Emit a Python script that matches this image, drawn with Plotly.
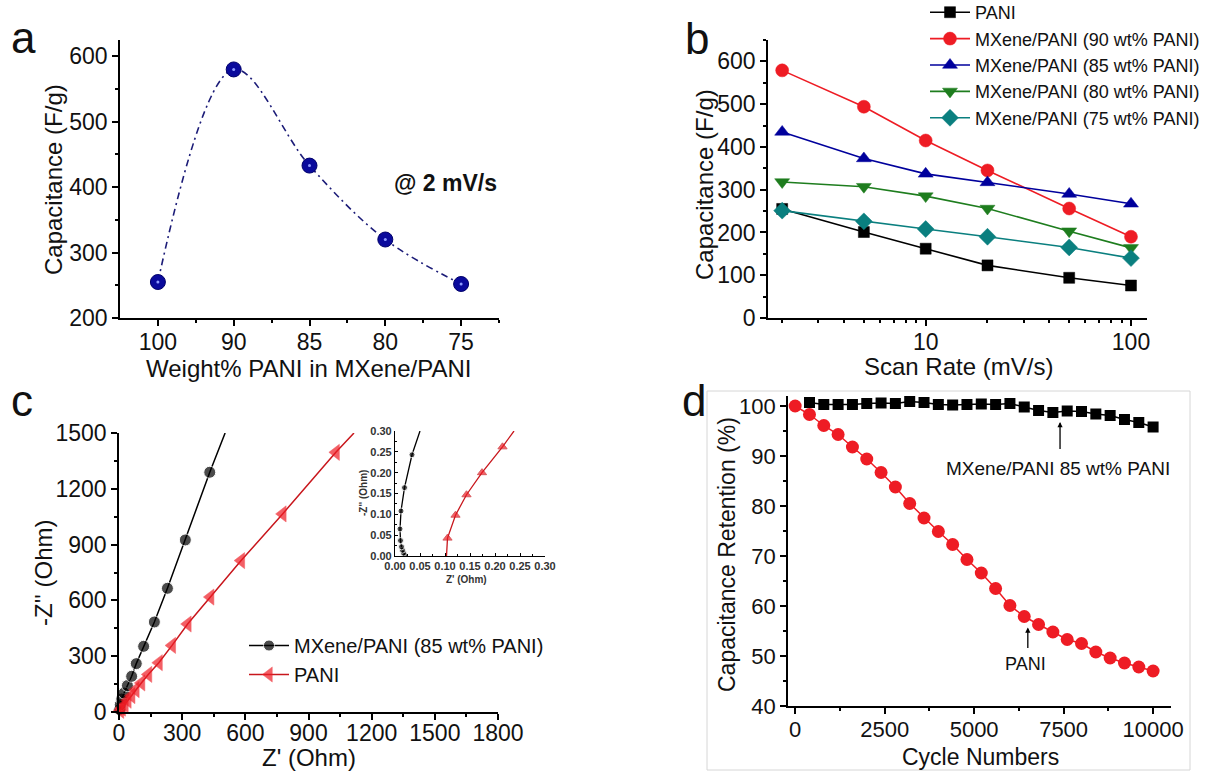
import plotly.graph_objects as go

W, H = 1217, 771
FONT = "Arial, Liberation Sans, sans-serif"
NARROW = "Liberation Sans Narrow, Arial Narrow, " + FONT


def px(x):
    return x / W


def py(y):
    return 1 - y / H


# ---------------- data ----------------
# (a) capacitance at 2 mV/s vs PANI loading
weight_labels = ["100", "90", "85", "80", "75"]
cap_2mv = [255, 580, 433, 320, 252]

# (b) capacitance vs scan rate
scan_rate = [2, 5, 10, 20, 50, 100]
cap_pani = [255, 201, 162, 123, 94, 76]
cap_90 = [579, 494, 415, 345, 256, 190]
cap_85 = [435, 373, 337, 317, 290, 267]
cap_80 = [318, 307, 285, 256, 203, 164]
cap_75 = [251, 226, 208, 190, 165, 140]

# (c) Nyquist plots (last point = where the line leaves the frame)
zre_mx = [3, 6, 13, 24, 40, 60, 82, 117, 168, 230, 315, 431, 504]
zim_mx = [13, 39, 70, 102, 142, 192, 260, 353, 484, 665, 925, 1289, 1500]
zre_pani = [6, 14, 27, 41, 59, 79, 106, 139, 189, 252, 326, 434, 580, 777, 1030, 1116]
zim_pani = [9, 21, 39, 63, 88, 120, 156, 202, 265, 358, 473, 618, 814, 1065, 1396, 1500]

# (c) inset, high-frequency region
zre_mx_in = [0.020, 0.017, 0.015, 0.013, 0.011, 0.010, 0.012, 0.019, 0.034, 0.050]
zim_mx_in = [0.002, 0.007, 0.014, 0.022, 0.037, 0.065, 0.108, 0.164, 0.243, 0.300]
zre_pani_in = [0.103, 0.105, 0.121, 0.143, 0.174, 0.215, 0.238]
zim_pani_in = [0.000, 0.043, 0.098, 0.147, 0.200, 0.262, 0.300]

# (d) cycling stability
cycles_pani = [0, 400, 800, 1200, 1600, 2000, 2400, 2800, 3200, 3600, 4000, 4400, 4800,
               5200, 5600, 6000, 6400, 6800, 7200, 7600, 8000, 8400, 8800, 9200, 9600, 10000]
ret_pani = [100, 98.3, 96.1, 94.3, 91.8, 89.4, 86.7, 83.8, 80.5, 77.6, 74.9, 72.3, 69.3,
            66.6, 63.5, 60.1, 57.9, 56.3, 54.8, 53.3, 52.5, 50.8, 49.6, 48.6, 47.8, 47.0]
cycles_mx = [400, 800, 1200, 1600, 2000, 2400, 2800, 3200, 3600, 4000, 4400, 4800,
             5200, 5600, 6000, 6400, 6800, 7200, 7600, 8000, 8400, 8800, 9200, 9600, 10000]
ret_mx = [100.7, 100.3, 100.3, 100.3, 100.5, 100.6, 100.5, 100.9, 100.7, 100.3, 100.2, 100.3,
          100.4, 100.3, 100.5, 99.8, 99.1, 98.7, 99.0, 98.9, 98.4, 98.1, 97.3, 96.7, 95.8]

# ---------------- colours ----------------
NAVY = "#0a0a9c"
RED = "#ee1c24"
BLUE = "#00009c"
GREEN = "#1e7d1e"
TEAL = "#0a7f7f"
BLACK = "#000000"

fig = go.Figure()

# ---- (a)
xa = list(range(len(weight_labels)))
fig.add_trace(go.Scatter(
    x=xa, y=cap_2mv, mode="lines+markers", xaxis="x", yaxis="y", showlegend=False,
    line=dict(color="#1c1c78", width=1.6, dash="7px,4px,2px,4px", shape="spline", smoothing=1.0),
    marker=dict(symbol="circle", size=15, color=NAVY, line=dict(color="#00006a", width=1)),
    cliponaxis=False))
fig.add_trace(go.Scatter(
    x=xa, y=cap_2mv, mode="markers", xaxis="x", yaxis="y", showlegend=False, hoverinfo="skip",
    marker=dict(symbol="circle", size=3, color="#8f9cff"), cliponaxis=False))

# ---- (b)
series_b = [
    ("PANI", cap_pani, BLACK, "square", 11),
    ("MXene/PANI (90 wt% PANI)", cap_90, RED, "circle", 13),
    ("MXene/PANI (85 wt% PANI)", cap_85, BLUE, "triangle-up", 13),
    ("MXene/PANI (80 wt% PANI)", cap_80, GREEN, "triangle-down", 13),
    ("MXene/PANI (75 wt% PANI)", cap_75, TEAL, "diamond", 13),
]
for name, vals, col, sym, sz in series_b:
    fig.add_trace(go.Scatter(
        x=scan_rate, y=vals, name=name, mode="lines+markers", xaxis="x2", yaxis="y2",
        legend="legend",
        line=dict(color=col, width=1.6),
        marker=dict(symbol=sym, size=sz, color=col, line=dict(color=col, width=0.5)),
        cliponaxis=False))

# ---- (c)
fig.add_trace(go.Scatter(
    x=zre_mx, y=zim_mx, name="MXene/PANI (85 wt% PANI)", mode="lines+markers",
    xaxis="x3", yaxis="y3", legend="legend2",
    line=dict(color=BLACK, width=1.5),
    marker=dict(symbol="circle", size=[12] * (len(zre_mx) - 1) + [0], color=BLACK),
    cliponaxis=False))
fig.add_trace(go.Scatter(
    x=zre_pani, y=zim_pani, name="PANI", mode="lines+markers",
    xaxis="x3", yaxis="y3", legend="legend2",
    line=dict(color="#c8161c", width=1.5),
    marker=dict(symbol="triangle-left", size=[14] * (len(zre_pani) - 1) + [0], color=RED,
                line=dict(color=RED, width=0.5)),
    cliponaxis=False))

# ---- (c) inset
fig.add_trace(go.Scatter(
    x=zre_mx_in, y=zim_mx_in, mode="lines+markers", xaxis="x4", yaxis="y4", showlegend=False,
    line=dict(color=BLACK, width=1.3),
    marker=dict(symbol="circle", size=[6] * (len(zre_mx_in) - 1) + [0], color=BLACK)))
fig.add_trace(go.Scatter(
    x=zre_pani_in, y=zim_pani_in, mode="lines+markers", xaxis="x4", yaxis="y4", showlegend=False,
    line=dict(color="#c8161c", width=1.3),
    marker=dict(symbol="triangle-up", size=[0] + [8] * (len(zre_pani_in) - 2) + [0], color=RED)))

# ---- (d)
fig.add_trace(go.Scatter(
    x=cycles_mx, y=ret_mx, mode="lines+markers", xaxis="x5", yaxis="y5", showlegend=False,
    line=dict(color=BLACK, width=1.5),
    marker=dict(symbol="square", size=11, color=BLACK), cliponaxis=False))
fig.add_trace(go.Scatter(
    x=cycles_pani, y=ret_pani, mode="lines+markers", xaxis="x5", yaxis="y5", showlegend=False,
    line=dict(color=RED, width=1.5),
    marker=dict(symbol="circle", size=13, color=RED), cliponaxis=False))


# ---------------- axes ----------------
def ax(domain, anchor, fs, **kw):
    d = dict(domain=domain, anchor=anchor, showline=True, linecolor="black", linewidth=1.6,
             mirror=False, ticks="outside", ticklen=6, tickwidth=1.5, tickcolor="black",
             showgrid=False, zeroline=False, automargin=False, tickformat="d",
             tickfont=dict(family=FONT, size=fs, color="#111"))
    d.update(kw)
    return d


def minor_lin(dt):
    return dict(dtick=dt, ticks="outside", ticklen=3, tickwidth=1.5, tickcolor="black")


def inset_ax(domain, anchor):
    return dict(domain=domain, anchor=anchor, range=[0, 0.30], dtick=0.05, tick0=0,
                tickformat=".2f", showline=True, linecolor="black", linewidth=1.2,
                ticks="inside", ticklen=3, tickwidth=1, tickcolor="black", showgrid=False,
                zeroline=False, automargin=False,
                minor=dict(dtick=0.025, ticks="inside", ticklen=2, tickwidth=1, tickcolor="black"),
                tickfont=dict(family=NARROW, size=11, color="#333", weight="bold"))


XSO = -3  # pull x tick labels slightly toward the axis

layout = dict(
    width=W, height=H, margin=dict(l=0, r=0, t=0, b=0, autoexpand=False),
    paper_bgcolor="white", plot_bgcolor="rgba(0,0,0,0)",
    font=dict(family=FONT, color="#111"),
    # (a)
    xaxis=ax([px(120), px(499)], "y", 23, range=[-0.5, 4.5], tickmode="array",
             tickvals=xa, ticktext=weight_labels, ticklabelstandoff=XSO,
             minor=dict(tickmode="array", tickvals=[0.5, 1.5, 2.5, 3.5, 4.5], ticks="outside",
                        ticklen=3, tickwidth=1.5, tickcolor="black")),
    yaxis=ax([py(318), py(40)], "x", 23, range=[200, 625], dtick=100, tick0=0,
             minor=minor_lin(50)),
    # (b)
    xaxis2=ax([px(768), px(1147)], "y2", 23, type="log", range=[0.232, 2.078],
              tickmode="array", tickvals=[10, 100], ticktext=["10", "100"],
              ticklabelstandoff=XSO,
              minor=dict(tickmode="array",
                         tickvals=[2, 3, 4, 5, 6, 7, 8, 9, 20, 30, 40, 50, 60, 70, 80, 90],
                         ticks="outside", ticklen=3, tickwidth=1.5, tickcolor="black")),
    yaxis2=ax([py(318), py(40)], "x2", 23, range=[0, 650], dtick=100, tick0=0,
              minor=minor_lin(50)),
    # (c)
    xaxis3=ax([px(119), px(498)], "y3", 23, range=[0, 1800], dtick=300, tick0=0,
              ticklabelstandoff=-6, minor=minor_lin(150)),
    yaxis3=ax([py(712), py(433)], "x3", 23, range=[0, 1500], dtick=300, tick0=0,
              minor=minor_lin(150)),
    # inset
    xaxis4=inset_ax([px(395), px(545)], "y4"),
    yaxis4=inset_ax([py(556), py(431)], "x4"),
    # (d)
    xaxis5=ax([px(788), px(1171)], "y5", 22, range=[-200, 10500], dtick=2500, tick0=0,
              ticklabelstandoff=XSO, minor=minor_lin(1250)),
    yaxis5=ax([py(706), py(396)], "x5", 22, range=[40, 102], dtick=10, tick0=0,
              minor=minor_lin(5)),
    legend=dict(x=px(925), y=py(-6), xanchor="left", yanchor="top", itemwidth=40,
                font=dict(family=FONT, size=18, color="#111"), bgcolor="rgba(0,0,0,0)",
                borderwidth=0, tracegroupgap=0),
    legend2=dict(x=px(244), y=py(626), xanchor="left", yanchor="top", itemwidth=40,
                 font=dict(family=FONT, size=20, color="#111"), bgcolor="rgba(0,0,0,0)",
                 borderwidth=0, tracegroupgap=0),
)


def txt(text, x, y, size, angle=0, bold=False, ref=("paper", "paper"), **kw):
    d = dict(text=text, x=x, y=y, xref=ref[0], yref=ref[1], showarrow=False,
             textangle=angle, xanchor="center", yanchor="middle",
             font=dict(family=FONT, size=size, color="#111", weight="bold" if bold else "normal"))
    d.update(kw)
    return d


inset_font = dict(family=NARROW, size=10, color="#333", weight="bold")
annotations = [
    # panel letters
    txt("a", px(23), py(37), 44),
    txt("b", px(697), py(38), 44),
    txt("c", px(22), py(400), 44),
    txt("d", px(694), py(400), 44),
    # axis titles
    txt("Capacitance (F/g)", px(53), py(180), 24, angle=-90),
    txt("Weight% PANI in MXene/PANI", px(308), py(368), 24),
    txt("@ 2 mV/s", px(445), py(183), 23, bold=True),
    txt("Capacitance (F/g)", px(704), py(185), 24, angle=-90),
    txt("Scan Rate (mV/s)", px(958), py(366), 24),
    txt("-Z'' (Ohm)", px(43), py(573), 24, angle=-90),
    txt("Z' (Ohm)", px(309), py(757), 24),
    txt("-Z'' (Ohm)", px(364), py(493), 10, angle=-90, font=inset_font),
    txt("Z' (Ohm)", px(467), py(579), 10, font=inset_font),
    txt("Capacitance Retention (%)", px(727), py(555), 23, angle=-90),
    txt("Cycle Numbers", px(980), py(757), 23),
    # panel d labels + arrows
    txt("MXene/PANI 85 wt% PANI", 7350, 87.5, 19, ref=("x5", "y5")),
    txt("PANI", 6430, 48.5, 18, ref=("x5", "y5")),
    dict(x=7400, y=96.8, ax=7400, ay=91.1, xref="x5", yref="y5", axref="x5", ayref="y5",
         text="", showarrow=True, arrowhead=2, arrowsize=0.8, arrowwidth=1.3, arrowcolor="black"),
    dict(x=6500, y=55.7, ax=6500, ay=51.3, xref="x5", yref="y5", axref="x5", ayref="y5",
         text="", showarrow=True, arrowhead=2, arrowsize=0.8, arrowwidth=1.3, arrowcolor="black"),
]
layout["annotations"] = annotations
layout["shapes"] = [dict(type="rect", xref="paper", yref="paper", x0=px(707), x1=px(1190),
                         y0=py(770), y1=py(391), line=dict(color="#d6d6d6", width=1),
                         layer="below")]

fig.update_layout(**layout)
fig.write_html("out.html", config={"displayModeBar": False},
               post_script="document.body.style.margin='0';document.body.style.padding='0';")
